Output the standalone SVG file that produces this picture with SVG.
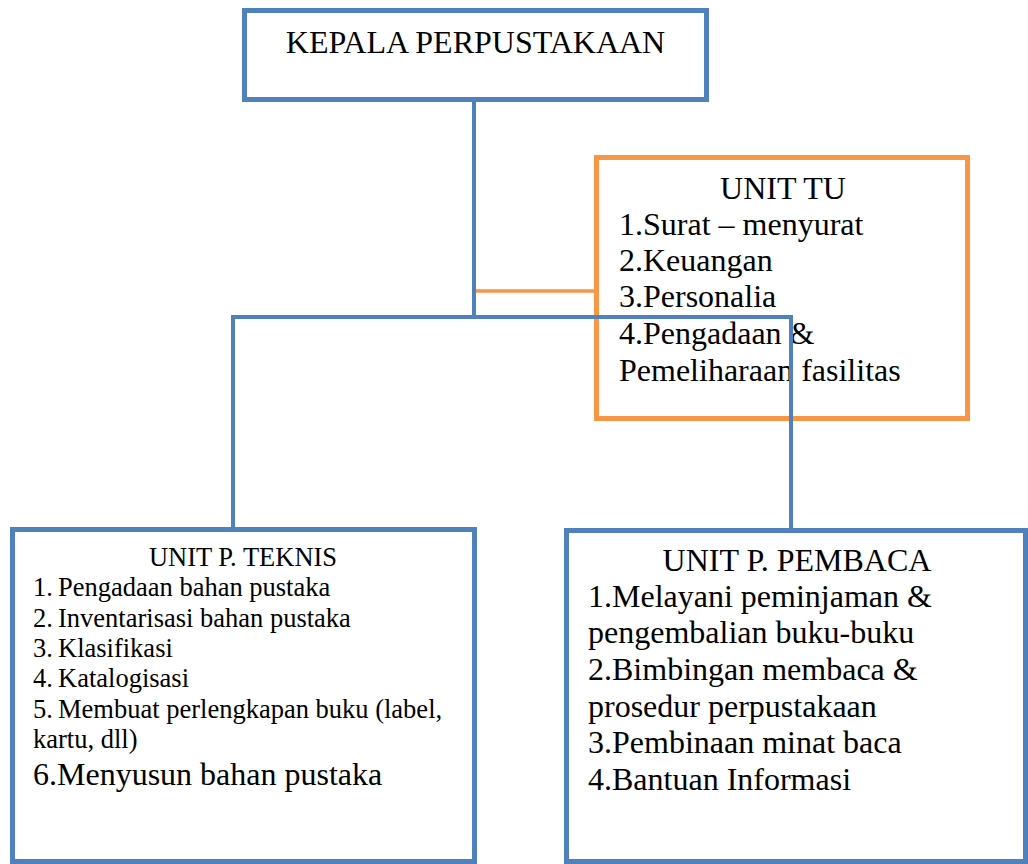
<svg xmlns="http://www.w3.org/2000/svg" width="1028" height="864" viewBox="0 0 1028 864">
<style>
.box{fill:#fff;stroke-width:5}
.blue{stroke:#4F81BD}
.orange{stroke:#F79646}
text{font-family:'Liberation Serif','Tinos','Times New Roman',serif;fill:#000}
.l{font-size:32px}
.s{font-size:26.5px}
.c{text-anchor:middle}
.conn line{stroke-width:4;fill:none}
</style>
<rect width="1028" height="864" fill="#fff"/>
<g id="kepala">
<rect class="box blue" x="244.5" y="10.5" width="462" height="89"/>
<text class="l c" x="475.5" y="53" font-family="Liberation Serif">KEPALA PERPUSTAKAAN</text>
</g>
<g id="unit-tu" font-family="Liberation Serif">
<rect class="box orange" x="596.5" y="157.5" width="371" height="261"/>
<text class="l c" x="783" y="199">UNIT TU</text>
<text class="l" x="619" y="235">1.Surat – menyurat</text>
<text class="l" x="619" y="271">2.Keuangan</text>
<text class="l" x="619" y="307">3.Personalia</text>
<text class="l" x="619" y="344">4.Pengadaan &amp;</text>
<text class="l" x="619" y="381">Pemeliharaan fasilitas</text>
</g>
<g id="unit-teknis">
<rect class="box blue" x="12.5" y="529.5" width="462" height="332"/>
<text class="s c" x="243" y="566">UNIT P. TEKNIS</text>
<text class="s" x="33" y="596">1.</text><text class="s" x="58" y="596">Pengadaan bahan pustaka</text>
<text class="s" x="33" y="627">2.</text><text class="s" x="58" y="627">Inventarisasi bahan pustaka</text>
<text class="s" x="33" y="657">3.</text><text class="s" x="58" y="657">Klasifikasi</text>
<text class="s" x="33" y="687">4.</text><text class="s" x="58" y="687">Katalogisasi</text>
<text class="s" x="33" y="718">5.</text><text class="s" x="58" y="718">Membuat perlengkapan buku (label,</text>
<text class="s" x="33" y="748">kartu, dll)</text>
<text class="l" x="33" y="785">6.Menyusun bahan pustaka</text>
</g>
<g id="unit-pembaca">
<rect class="box blue" x="566.5" y="530.5" width="459" height="331"/>
<text class="l c" x="797" y="571">UNIT P. PEMBACA</text>
<text class="l" x="588" y="607">1.Melayani peminjaman &amp;</text>
<text class="l" x="588" y="643">pengembalian buku-buku</text>
<text class="l" x="588" y="680">2.Bimbingan membaca &amp;</text>
<text class="l" x="588" y="717">prosedur perpustakaan</text>
<text class="l" x="588" y="753">3.Pembinaan minat baca</text>
<text class="l" x="588" y="790">4.Bantuan Informasi</text>
</g>
<g id="connectors" class="conn">
<line class="orange" x1="476" y1="291" x2="596" y2="291" style="stroke-width:3.5"/>
<line class="blue" x1="474" y1="102" x2="474" y2="319"/>
<line class="blue" x1="231" y1="317" x2="793" y2="317"/>
<line class="blue" x1="233" y1="315" x2="233" y2="528"/>
<line class="blue" x1="791" y1="315" x2="791" y2="529"/>
</g>
</svg>
